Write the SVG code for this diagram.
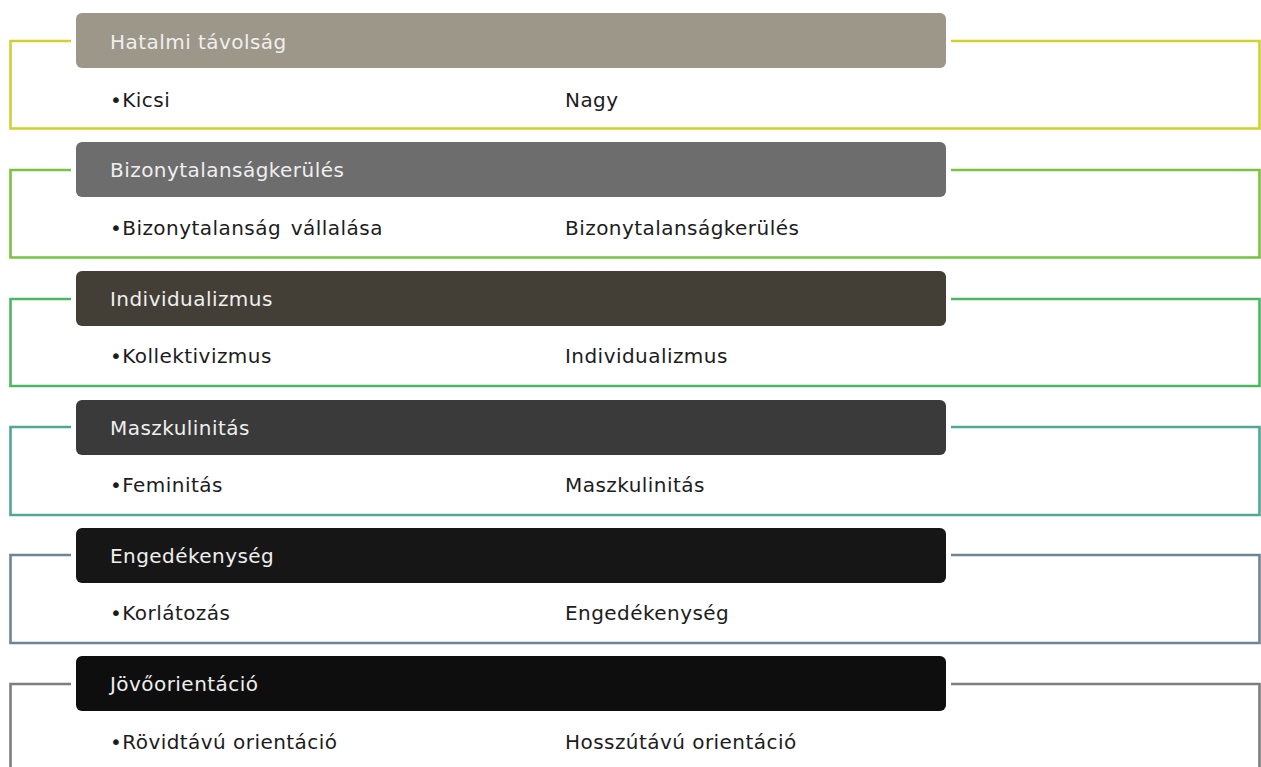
<svg xmlns="http://www.w3.org/2000/svg" width="1261" height="767" viewBox="0 0 1261 767">
  <style>
    .frame { fill: none; stroke-width: 2.6; }
    .bar { stroke: none; }
    .title { font-family: "DejaVu Sans", "Noto Sans", sans-serif; font-size: 20px; letter-spacing: 0.45px; fill: #efefef; }
    .item { font-family: "DejaVu Sans", "Noto Sans", sans-serif; font-size: 20px; letter-spacing: 0.45px; fill: #1c1c1c; }
  </style>
  <rect width="1261" height="767" fill="#ffffff"/>

  <!-- bracket frames around each dimension -->
  <g id="connectors">
    <path class="frame" stroke="#d0d032" d="M71 41 H10.5 V128.5 H1259.5 V41 H951"/>
    <path class="frame" stroke="#7bc142" d="M71 170 H10.5 V257.5 H1259.5 V170 H951"/>
    <path class="frame" stroke="#4cb663" d="M71 299 H10.5 V386 H1259.5 V299 H951"/>
    <path class="frame" stroke="#52a696" d="M71 427 H10.5 V515 H1259.5 V427 H951"/>
    <path class="frame" stroke="#6d8593" d="M71 555 H10.5 V643 H1259.5 V555 H951"/>
    <path class="frame" stroke="#7e7e7e" d="M71 684 H10.5 V772 H1259.5 V684 H951"/>
  </g>

  <g id="power-distance">
    <rect class="bar" x="76" y="13" width="870" height="55" rx="6" fill="#9d978a"/>
    <text class="title" x="110" y="49">Hatalmi távolság</text>
    <text class="item" x="110" y="107">•Kicsi</text>
    <text class="item" x="565" y="107">Nagy</text>
  </g>

  <g id="uncertainty-avoidance">
    <rect class="bar" x="76" y="142" width="870" height="55" rx="6" fill="#6d6d6d"/>
    <text class="title" x="110" y="177">Bizonytalanságkerülés</text>
    <text class="item" x="110" y="235" word-spacing="3">•Bizonytalanság vállalása</text>
    <text class="item" x="565" y="235">Bizonytalanságkerülés</text>
  </g>

  <g id="individualism">
    <rect class="bar" x="76" y="271" width="870" height="55" rx="6" fill="#433f37"/>
    <text class="title" x="110" y="306">Individualizmus</text>
    <text class="item" x="110" y="363">•Kollektivizmus</text>
    <text class="item" x="565" y="363">Individualizmus</text>
  </g>

  <g id="masculinity">
    <rect class="bar" x="76" y="400" width="870" height="55" rx="6" fill="#3a3a3a"/>
    <text class="title" x="110" y="435">Maszkulinitás</text>
    <text class="item" x="110" y="492">•Feminitás</text>
    <text class="item" x="565" y="492">Maszkulinitás</text>
  </g>

  <g id="indulgence">
    <rect class="bar" x="76" y="528" width="870" height="55" rx="6" fill="#161616"/>
    <text class="title" x="110" y="563">Engedékenység</text>
    <text class="item" x="110" y="620">•Korlátozás</text>
    <text class="item" x="565" y="620">Engedékenység</text>
  </g>

  <g id="future-orientation">
    <rect class="bar" x="76" y="656" width="870" height="55" rx="6" fill="#0e0e0e"/>
    <text class="title" x="110" y="691">Jövőorientáció</text>
    <text class="item" x="110" y="749">•Rövidtávú orientáció</text>
    <text class="item" x="565" y="749">Hosszútávú orientáció</text>
  </g>
</svg>
